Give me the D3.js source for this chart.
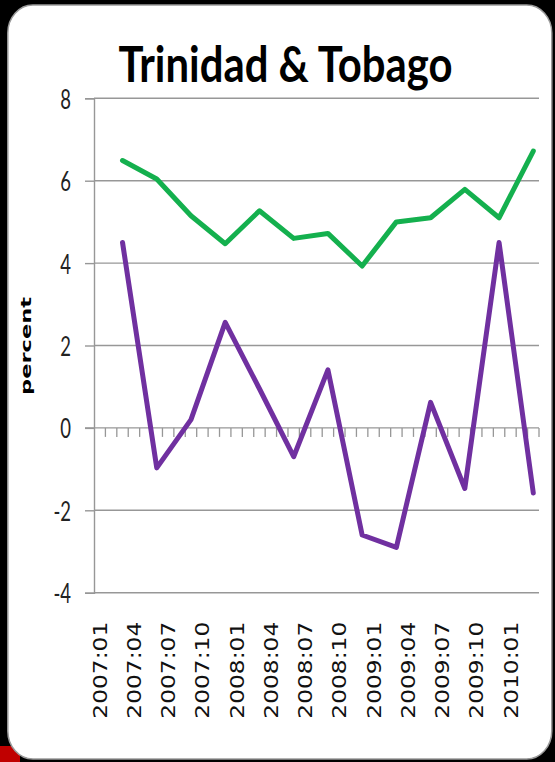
<!DOCTYPE html>
<html>
<head>
<meta charset="utf-8">
<script src="https://cdn.jsdelivr.net/npm/d3@7"></script>
<style>
  html, body { margin: 0; padding: 0; background: #000; }
  svg { display: block; }
</style>
</head>
<body>
<svg id="chart" width="555" height="762"></svg>
<script>
// ---- Data ----
const months = [
  "2007:01","2007:02","2007:03","2007:04","2007:05","2007:06","2007:07","2007:08","2007:09","2007:10","2007:11","2007:12",
  "2008:01","2008:02","2008:03","2008:04","2008:05","2008:06","2008:07","2008:08","2008:09","2008:10","2008:11","2008:12",
  "2009:01","2009:02","2009:03","2009:04","2009:05","2009:06","2009:07","2009:08","2009:09","2009:10","2009:11","2009:12",
  "2010:01","2010:02","2010:03"
];
const tickLabels = ["2007:01","2007:04","2007:07","2007:10","2008:01","2008:04","2008:07","2008:10","2009:01","2009:04","2009:07","2009:10","2010:01"];
const quarters = ["2007:03","2007:06","2007:09","2007:12","2008:03","2008:06","2008:09","2008:12","2009:03","2009:06","2009:09","2009:12","2010:03"];
const greenValues  = [6.49, 6.04, 5.15, 4.47, 5.27, 4.60, 4.72, 3.93, 5.00, 5.10, 5.79, 5.10, 6.72];
const purpleValues = [4.50, -0.97, 0.20, 2.56, 0.95, -0.70, 1.41, -2.60, -2.90, 0.62, -1.47, 4.50, -1.58];
const yTicks = [-4, -2, 0, 2, 4, 6, 8];
const titleText = "Trinidad & Tobago";
const yTitle = "percent";

// ---- Layout ----
const svg = d3.select("#chart");
const W = 555, H = 762;
const plot = { left: 94, right: 539, top: 98.3, bottom: 592.7 };

svg.append("rect").attr("x", 0).attr("y", 0).attr("width", W).attr("height", H).attr("fill", "#000");
svg.append("rect").attr("x", 0).attr("y", 746).attr("width", 20).attr("height", 16).attr("fill", "#c00000");
svg.append("rect")
  .attr("x", 7.8).attr("y", 5).attr("width", 544).attr("height", 754)
  .attr("rx", 25).attr("ry", 28)
  .attr("fill", "#fff").attr("stroke", "#9a9a9a").attr("stroke-width", 1.5);

const x = d3.scaleBand().domain(months).range([plot.left, plot.right]).padding(0);
const y = d3.scaleLinear().domain([-4, 8]).range([plot.bottom, plot.top]);
const xc = m => x(m) + x.bandwidth() / 2;

const gridColor = "#979797";

// Gridlines
svg.append("g").selectAll("line").data(yTicks.filter(d => d !== 0)).join("line")
  .attr("x1", plot.left).attr("x2", plot.right)
  .attr("y1", d => y(d)).attr("y2", d => y(d))
  .attr("stroke", gridColor).attr("stroke-width", 1.4);

// Y axis (ticks outward + labels)
const yAxis = svg.append("g")
  .attr("transform", `translate(${plot.left},0)`)
  .call(d3.axisLeft(y).tickValues(yTicks).tickSize(9).tickPadding(14).tickFormat(d3.format("d")));
yAxis.select(".domain").attr("stroke", gridColor).attr("stroke-width", 1.4);
yAxis.selectAll(".tick line").attr("stroke", gridColor).attr("stroke-width", 1.4);
yAxis.selectAll(".tick text")
  .attr("font-family", "Lato, 'Open Sans', sans-serif")
  .attr("font-size", 18.5)
  .attr("fill", "#222")
  .attr("dy", "0.36em")
  .attr("transform", "scale(1,1.5)")
  .text(d => d < 0 ? "-" + Math.abs(d) : String(d));

// Zero axis line with category tick marks
svg.append("line")
  .attr("x1", plot.left - 9).attr("x2", plot.right)
  .attr("y1", y(0)).attr("y2", y(0))
  .attr("stroke", gridColor).attr("stroke-width", 1.4);
svg.append("g").selectAll("line").data(months.slice(1).concat(["__end"])).join("line")
  .attr("x1", d => d === "__end" ? plot.right : x(d))
  .attr("x2", d => d === "__end" ? plot.right : x(d))
  .attr("y1", y(0)).attr("y2", y(0) + 9)
  .attr("stroke", gridColor).attr("stroke-width", 1.3);

// X labels (positioned low, below the plot)
const xAxis = svg.append("g")
  .attr("transform", `translate(0,${plot.bottom})`)
  .call(d3.axisBottom(x).tickValues(tickLabels).tickSize(0));
xAxis.select(".domain").remove();
xAxis.selectAll(".tick text")
  .attr("font-family", "'DejaVu Sans', Verdana, sans-serif")
  .attr("font-size", 19.5)
  .attr("fill", "#111")
  .attr("text-anchor", "end")
  .attr("transform", "rotate(-90)")
  .attr("x", -29)
  .attr("y", 0)
  .attr("dy", "0.36em")
  .attr("textLength", 97)
  .attr("lengthAdjust", "spacingAndGlyphs");

// Lines
const line = d3.line().x(d => xc(d[0])).y(d => y(d[1]));
svg.append("path")
  .datum(quarters.map((q, i) => [q, greenValues[i]]))
  .attr("d", line).attr("fill", "none")
  .attr("stroke", "#14b04e").attr("stroke-width", 5)
  .attr("stroke-linejoin", "round").attr("stroke-linecap", "round");
svg.append("path")
  .datum(quarters.map((q, i) => [q, purpleValues[i]]))
  .attr("d", line).attr("fill", "none")
  .attr("stroke", "#7030a0").attr("stroke-width", 5)
  .attr("stroke-linejoin", "round").attr("stroke-linecap", "round");

// Title
svg.append("g").attr("transform", "translate(285.4,81.5) scale(1,1.47)")
  .append("text")
  .attr("text-anchor", "middle")
  .attr("font-family", "Lato, 'Open Sans', sans-serif")
  .attr("font-weight", 700)
  .attr("font-size", 34)
  .attr("fill", "#000")
  .attr("textLength", 334)
  .attr("lengthAdjust", "spacingAndGlyphs")
  .text(titleText);

// Y title
svg.append("text")
  .attr("transform", "translate(31,346) rotate(-90)")
  .attr("text-anchor", "middle")
  .attr("font-family", "'DejaVu Sans', sans-serif")
  .attr("font-weight", 700)
  .attr("font-size", 14)
  .attr("fill", "#000")
  .attr("textLength", 98)
  .attr("lengthAdjust", "spacingAndGlyphs")
  .text(yTitle);
</script>
</body>
</html>
